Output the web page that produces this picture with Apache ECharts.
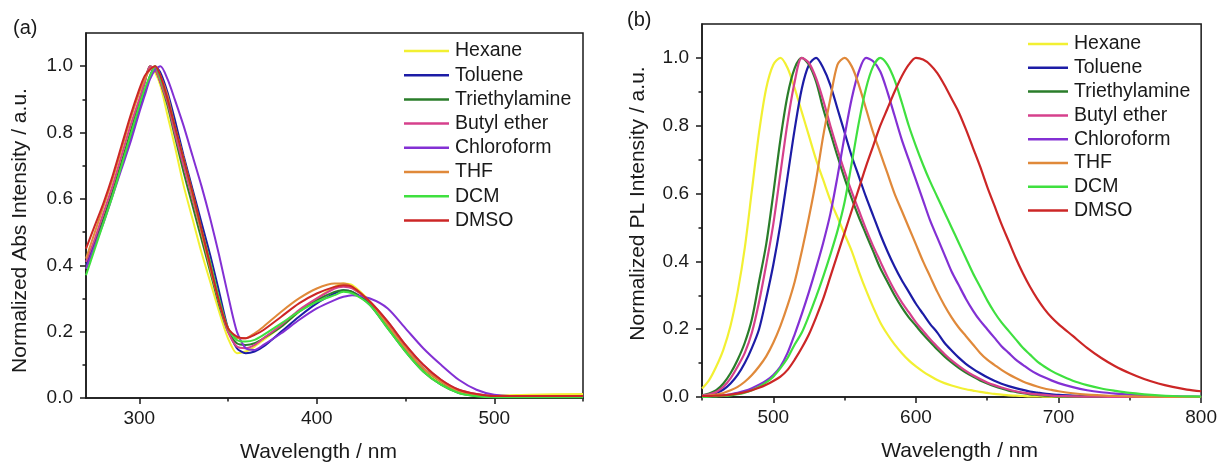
<!DOCTYPE html>
<html>
<head>
<meta charset="utf-8">
<script src="https://cdn.jsdelivr.net/npm/echarts@6/dist/echarts.min.js"></script>
<style>
  html, body { margin: 0; padding: 0; background: #fff; }
  #chart { width: 1220px; height: 468px; }
</style>
</head>
<body>
<div id="chart"></div>
<script>
// solvent names + colours (same order in both panels)
const solvents = ["Hexane", "Toluene", "Triethylamine", "Butyl ether", "Chloroform", "THF", "DCM", "DMSO"];
const colors = ["#f2f032", "#1c1ca6", "#2a7d2a", "#d6408c", "#8330d4", "#e0893a", "#3fe03f", "#cc2626"];

// (a) absorption
const absWl = [270, 275, 280, 285, 290, 295, 300, 303, 306, 309, 312, 316, 320, 325, 330, 335, 340, 345, 350, 355,
  360, 365, 370, 380, 390, 400, 410, 415, 420, 430, 440, 450, 460, 470, 480, 490, 500, 520, 550];
const absHexane = [0.40, 0.47, 0.55, 0.63, 0.71, 0.80, 0.89, 0.95, 1.0, 0.98, 0.94, 0.85, 0.76, 0.64, 0.54, 0.44, 0.35, 0.26, 0.18, 0.135,
  0.14, 0.155, 0.175, 0.215, 0.26, 0.30, 0.335, 0.345, 0.34, 0.29, 0.22, 0.145, 0.085, 0.045, 0.02, 0.01, 0.008, 0.01, 0.012];
const absToluene = [0.40, 0.47, 0.54, 0.62, 0.70, 0.78, 0.87, 0.92, 0.97, 1.0, 0.98, 0.92, 0.84, 0.73, 0.63, 0.53, 0.43, 0.32, 0.21, 0.15,
  0.135, 0.14, 0.155, 0.20, 0.245, 0.285, 0.315, 0.325, 0.32, 0.285, 0.22, 0.15, 0.09, 0.05, 0.02, 0.01, 0.005, 0.005, 0.005];
const absTriethylamine = [0.39, 0.46, 0.54, 0.62, 0.71, 0.80, 0.89, 0.95, 1.0, 0.99, 0.95, 0.88, 0.79, 0.68, 0.58, 0.48, 0.38, 0.28, 0.20, 0.165,
  0.16, 0.165, 0.18, 0.215, 0.26, 0.295, 0.32, 0.325, 0.32, 0.28, 0.21, 0.14, 0.08, 0.04, 0.015, 0.006, 0.003, 0.003, 0.003];
const absButylEther = [0.41, 0.48, 0.56, 0.64, 0.73, 0.82, 0.90, 0.95, 1.0, 0.99, 0.95, 0.89, 0.80, 0.70, 0.60, 0.50, 0.40, 0.29, 0.20, 0.155,
  0.15, 0.16, 0.18, 0.22, 0.265, 0.30, 0.33, 0.335, 0.33, 0.29, 0.23, 0.16, 0.10, 0.055, 0.025, 0.012, 0.006, 0.006, 0.006];
const absChloroform = [0.39, 0.46, 0.53, 0.61, 0.69, 0.77, 0.86, 0.91, 0.96, 0.99, 1.0, 0.96, 0.90, 0.82, 0.73, 0.64, 0.54, 0.43, 0.31, 0.20,
  0.15, 0.145, 0.16, 0.195, 0.235, 0.27, 0.295, 0.305, 0.31, 0.30, 0.27, 0.21, 0.15, 0.10, 0.055, 0.025, 0.01, 0.005, 0.005];
const absTHF = [0.42, 0.50, 0.58, 0.66, 0.75, 0.84, 0.92, 0.96, 0.99, 1.0, 0.97, 0.91, 0.82, 0.72, 0.61, 0.50, 0.39, 0.29, 0.21, 0.18,
  0.18, 0.195, 0.215, 0.26, 0.30, 0.33, 0.345, 0.345, 0.335, 0.29, 0.22, 0.15, 0.09, 0.05, 0.02, 0.01, 0.005, 0.005, 0.005];
const absDCM = [0.37, 0.45, 0.53, 0.61, 0.70, 0.79, 0.88, 0.93, 0.97, 1.0, 0.96, 0.90, 0.82, 0.72, 0.62, 0.51, 0.41, 0.30, 0.21, 0.175,
  0.17, 0.175, 0.19, 0.225, 0.26, 0.29, 0.31, 0.32, 0.315, 0.28, 0.21, 0.14, 0.08, 0.04, 0.015, 0.005, 0.002, 0.002, 0.002];
const absDMSO = [0.45, 0.52, 0.59, 0.67, 0.76, 0.85, 0.93, 0.97, 0.99, 1.0, 0.97, 0.90, 0.82, 0.72, 0.62, 0.51, 0.40, 0.29, 0.21, 0.185,
  0.18, 0.19, 0.205, 0.245, 0.285, 0.315, 0.335, 0.34, 0.335, 0.29, 0.23, 0.16, 0.10, 0.055, 0.025, 0.012, 0.006, 0.006, 0.006];

// (b) photoluminescence
const plWl = [450, 455, 460, 465, 470, 475, 480, 485, 490, 495, 500, 505, 510, 515, 520, 525, 530, 535, 540, 545,
  550, 555, 560, 565, 570, 575, 580, 585, 590, 595, 600, 605, 610, 615, 620, 625, 630, 635, 640, 645,
  650, 655, 660, 665, 670, 675, 680, 685, 690, 695, 700, 710, 720, 730, 740, 750, 760, 770, 780, 790, 800];
const plHexane = [0.025, 0.05, 0.09, 0.14, 0.21, 0.31, 0.44, 0.61, 0.78, 0.91, 0.98, 1.0, 0.97, 0.91, 0.84, 0.77, 0.70, 0.64, 0.58, 0.53,
  0.48, 0.43, 0.37, 0.315, 0.265, 0.22, 0.185, 0.155, 0.13, 0.108, 0.09, 0.075, 0.062, 0.05, 0.041, 0.034, 0.028, 0.023, 0.019, 0.015,
  0.012, 0.009, 0.007, 0.005, 0.004, 0.003, 0.002, 0.002, 0.001, 0.001, 0.001, 0, 0, 0, 0, 0, 0, 0, 0, 0, 0];
const plToluene = [0.003, 0.006, 0.012, 0.022, 0.04, 0.065, 0.10, 0.145, 0.20, 0.29, 0.39, 0.51, 0.65, 0.79, 0.91, 0.98, 1.0, 0.97, 0.92, 0.85,
  0.78, 0.71, 0.65, 0.59, 0.535, 0.48, 0.43, 0.385, 0.345, 0.31, 0.275, 0.245, 0.215, 0.19, 0.16, 0.137, 0.116, 0.098, 0.083, 0.07,
  0.058, 0.048, 0.039, 0.032, 0.026, 0.021, 0.016, 0.013, 0.01, 0.008, 0.006, 0.004, 0.002, 0.001, 0.001, 0, 0, 0, 0, 0, 0];
const plTriethylamine = [0.005, 0.01, 0.02, 0.04, 0.07, 0.11, 0.16, 0.23, 0.34, 0.45, 0.60, 0.76, 0.89, 0.97, 1.0, 0.98, 0.93, 0.85, 0.78, 0.71,
  0.645, 0.585, 0.53, 0.48, 0.43, 0.38, 0.34, 0.30, 0.265, 0.235, 0.21, 0.185, 0.162, 0.14, 0.12, 0.102, 0.086, 0.072, 0.06, 0.049,
  0.04, 0.032, 0.025, 0.019, 0.015, 0.011, 0.008, 0.006, 0.004, 0.003, 0.002, 0.001, 0.001, 0, 0, 0, 0, 0, 0, 0, 0];
const plButylEther = [0.004, 0.008, 0.015, 0.03, 0.055, 0.09, 0.13, 0.19, 0.28, 0.39, 0.51, 0.66, 0.81, 0.93, 1.0, 0.985, 0.94, 0.875, 0.80, 0.73,
  0.665, 0.605, 0.55, 0.495, 0.445, 0.40, 0.355, 0.315, 0.28, 0.25, 0.22, 0.195, 0.17, 0.148, 0.127, 0.108, 0.092, 0.077, 0.064, 0.053,
  0.043, 0.035, 0.028, 0.022, 0.017, 0.013, 0.01, 0.008, 0.006, 0.004, 0.003, 0.002, 0.001, 0.001, 0, 0, 0, 0, 0, 0, 0];
const plChloroform = [0.001, 0.002, 0.003, 0.005, 0.008, 0.012, 0.018, 0.026, 0.036, 0.048, 0.065, 0.09, 0.13, 0.185, 0.245, 0.31, 0.38, 0.455, 0.54, 0.65,
  0.77, 0.88, 0.96, 1.0, 0.99, 0.96, 0.90, 0.83, 0.76, 0.70, 0.64, 0.58, 0.52, 0.47, 0.42, 0.37, 0.33, 0.29, 0.255, 0.225,
  0.20, 0.175, 0.15, 0.13, 0.11, 0.095, 0.08, 0.068, 0.058, 0.049, 0.041, 0.029, 0.02, 0.014, 0.01, 0.007, 0.005, 0.003, 0.002, 0.001, 0.001];
const plTHF = [0.002, 0.004, 0.007, 0.012, 0.02, 0.03, 0.045, 0.065, 0.09, 0.12, 0.16, 0.21, 0.27, 0.34, 0.43, 0.53, 0.64, 0.77, 0.88, 0.98,
  1.0, 0.975, 0.92, 0.85, 0.78, 0.72, 0.66, 0.60, 0.55, 0.50, 0.45, 0.40, 0.355, 0.31, 0.27, 0.235, 0.205, 0.18, 0.155, 0.13,
  0.11, 0.095, 0.08, 0.067, 0.056, 0.046, 0.038, 0.031, 0.025, 0.021, 0.017, 0.011, 0.007, 0.005, 0.003, 0.002, 0.001, 0.001, 0, 0, 0];
const plDCM = [0.0, 0.001, 0.002, 0.003, 0.005, 0.008, 0.013, 0.02, 0.03, 0.043, 0.06, 0.085, 0.115, 0.155, 0.19, 0.24, 0.295, 0.355, 0.42, 0.49,
  0.575, 0.69, 0.81, 0.91, 0.975, 1.0, 0.98, 0.935, 0.87, 0.80, 0.74, 0.685, 0.635, 0.59, 0.545, 0.50, 0.455, 0.41, 0.365, 0.325,
  0.285, 0.25, 0.22, 0.195, 0.17, 0.145, 0.125, 0.105, 0.09, 0.077, 0.066, 0.048, 0.035, 0.025, 0.018, 0.012, 0.008, 0.005, 0.003, 0.002, 0.001];
const plDMSO = [0.003, 0.003, 0.004, 0.005, 0.007, 0.01, 0.014, 0.02, 0.027, 0.036, 0.047, 0.06, 0.08, 0.11, 0.145, 0.185, 0.235, 0.29, 0.355, 0.42,
  0.485, 0.55, 0.615, 0.68, 0.74, 0.80, 0.85, 0.90, 0.945, 0.98, 1.0, 0.995, 0.98, 0.955, 0.92, 0.88, 0.84, 0.79, 0.735, 0.68,
  0.62, 0.565, 0.51, 0.46, 0.41, 0.365, 0.325, 0.29, 0.26, 0.235, 0.215, 0.18, 0.145, 0.115, 0.09, 0.07, 0.053, 0.04, 0.03, 0.022, 0.017];

// tick positions
const absMajor = [300, 400, 500];
const absMinor = [350, 450, 550];
const plMajor = [500, 600, 700, 800];
const plMinor = [450, 550, 650, 750];
const yMajor = [0, 0.2, 0.4, 0.6, 0.8, 1.0];
const yMinor = [0.1, 0.3, 0.5, 0.7, 0.9];

const absData = [absHexane, absToluene, absTriethylamine, absButylEther, absChloroform, absTHF, absDCM, absDMSO];
const plData = [plHexane, plToluene, plTriethylamine, plButylEther, plChloroform, plTHF, plDCM, plDMSO];

const font = "'Liberation Sans', Arial, sans-serif";
const ink = "#1a1a1a";

function pairs(wl, vals) {
  return wl.map((w, i) => [w, vals[i]]);
}

function mainX(grid, min, max, ticks, namePad) {
  return {
    type: "value", gridIndex: grid, min: min, max: max, position: "bottom",
    axisLine: { lineStyle: { color: ink, width: 1.5 } },
    axisTick: { customValues: ticks, length: 6, lineStyle: { color: ink, width: 1.5 } },
    axisLabel: { customValues: ticks, color: ink, fontSize: 19, fontFamily: font, margin: 11 },
    splitLine: { show: false },
    name: "Wavelength / nm", nameLocation: "middle", nameGap: 44,
    nameTextStyle: { color: ink, fontSize: 21, fontFamily: font, padding: namePad }
  };
}
function minorX(grid, min, max, ticks) {
  return {
    type: "value", gridIndex: grid, min: min, max: max, position: "bottom",
    axisLine: { show: false },
    axisTick: { customValues: ticks, length: 3.5, lineStyle: { color: ink, width: 1.5 } },
    axisLabel: { show: false },
    splitLine: { show: false }
  };
}
function mainY(grid, name, gap, namePad) {
  return {
    type: "value", gridIndex: grid, min: 0, max: 1.1, position: "left",
    axisLine: { lineStyle: { color: ink, width: 1.5 } },
    axisTick: { customValues: yMajor, length: 6, lineStyle: { color: ink, width: 1.5 } },
    axisLabel: { customValues: yMajor, color: ink, fontSize: 19, fontFamily: font, margin: 13,
      formatter: v => v.toFixed(1) },
    splitLine: { show: false },
    name: name, nameLocation: "middle", nameGap: gap,
    nameTextStyle: { color: ink, fontSize: 21, fontFamily: font, padding: namePad }
  };
}
function minorY(grid) {
  return {
    type: "value", gridIndex: grid, min: 0, max: 1.1, position: "left",
    axisLine: { show: false },
    axisTick: { customValues: yMinor, length: 3.5, lineStyle: { color: ink, width: 1.5 } },
    axisLabel: { show: false },
    splitLine: { show: false }
  };
}

const series = [];
solvents.forEach((name, i) => {
  series.push({
    name: name, type: "line", xAxisIndex: 0, yAxisIndex: 0,
    data: pairs(absWl, absData[i]), smooth: 0.25, symbol: "none",
    lineStyle: { color: colors[i], width: 2 }, itemStyle: { color: colors[i] }
  });
});
solvents.forEach((name, i) => {
  series.push({
    name: name, type: "line", xAxisIndex: 2, yAxisIndex: 2,
    data: pairs(plWl, plData[i]), smooth: 0.3, symbol: "none",
    lineStyle: { color: colors[i], width: 2.2 }, itemStyle: { color: colors[i] }
  });
});

// plain line icons like the original legend
const legendBase = {
  orient: "vertical", data: solvents, icon: "rect", itemHeight: 2.5, padding: 0,
  selectedMode: false,
  textStyle: { color: ink, fontSize: 19.5, fontFamily: font, padding: [0, 0, 0, 1] }
};

const chart = echarts.init(document.getElementById("chart"));
chart.setOption({
  animation: false,
  backgroundColor: "#fff",
  title: [
    { text: "(a)", left: 13, top: 18, padding: 0, textStyle: { color: ink, fontSize: 20, fontWeight: "normal", fontFamily: font } },
    { text: "(b)", left: 627, top: 10, padding: 0, textStyle: { color: ink, fontSize: 20, fontWeight: "normal", fontFamily: font } }
  ],
  grid: [
    { left: 86, right: 637, top: 33, bottom: 68, show: true, borderColor: ink, borderWidth: 1.5 },
    { left: 702, right: 18, top: 24, bottom: 71, show: true, borderColor: ink, borderWidth: 1.5 }
  ],
  legend: [
    Object.assign({}, legendBase, { left: 404, top: 41, itemWidth: 45, itemGap: 4.2 }),
    Object.assign({}, legendBase, { left: 1028, top: 34, itemWidth: 40, itemGap: 3.8 })
  ],
  xAxis: [
    mainX(0, 270, 550, absMajor, [0, 32, 0, 0]),
    minorX(0, 270, 550, absMinor),
    mainX(1, 450, 800, plMajor, [0, 0, 0, 16]),
    minorX(1, 450, 800, plMinor)
  ],
  yAxis: [
    mainY(0, "Normalized Abs Intensity / a.u.", 55, [0, 30, 0, 0]),
    minorY(0),
    mainY(1, "Normalized PL Intensity / a.u.", 53, [0, 0, 0, 14]),
    minorY(1)
  ],
  series: series
});
</script>
</body>
</html>
